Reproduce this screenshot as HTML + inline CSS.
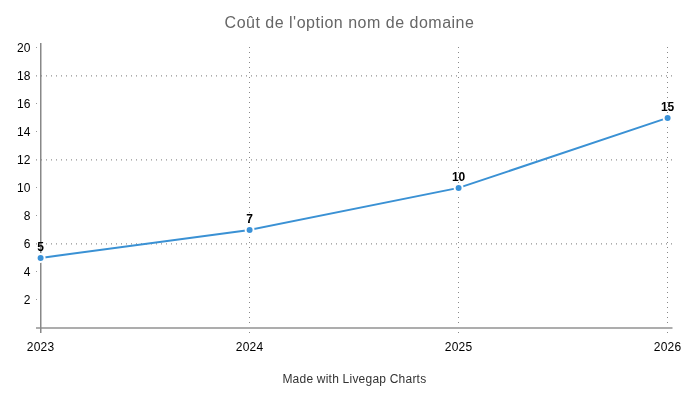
<!DOCTYPE html>
<html>
<head>
<meta charset="utf-8">
<style>
html,body{margin:0;padding:0;background:#fff;width:700px;height:400px;overflow:hidden}
svg{display:block;will-change:transform}
text{font-family:"Liberation Sans",sans-serif}
.yl{font-size:12px;fill:#000;text-anchor:end}
.xl{font-size:12px;fill:#000;text-anchor:middle;letter-spacing:0.25px}
.dl{font-size:12px;font-weight:bold;fill:#000;text-anchor:middle}
</style>
</head>
<body>
<svg width="700" height="400" viewBox="0 0 700 400" xmlns="http://www.w3.org/2000/svg">
<text x="349.5" y="27.6" font-size="16" fill="#666" text-anchor="middle" letter-spacing="0.5">Coût de l'option nom de domaine</text>

<!-- vertical gridlines -->
<g stroke="#8a8a8a" stroke-width="1" stroke-dasharray="1 4">
<line x1="249.5" y1="47" x2="249.5" y2="334"/>
<line x1="458.5" y1="47" x2="458.5" y2="334"/>
<line x1="667.5" y1="47" x2="667.5" y2="334"/>
</g>
<!-- horizontal gridlines -->
<g stroke="#777" stroke-width="1" stroke-dasharray="1 4">
<line x1="36" y1="75.9" x2="673" y2="75.9"/>
<line x1="36" y1="159.9" x2="673" y2="159.9"/>
<line x1="36" y1="243.9" x2="673" y2="243.9"/>
</g>
<!-- y tick marks -->
<g fill="#999">
<rect x="36" y="47" width="1" height="1"/>
<rect x="36" y="103" width="1" height="1"/>
<rect x="36" y="131" width="1" height="1"/>
<rect x="36" y="187" width="1" height="1"/>
<rect x="36" y="215" width="1" height="1"/>
<rect x="36" y="271" width="1" height="1"/>
<rect x="36" y="299" width="1" height="1"/>
</g>
<!-- axes -->
<line x1="36" y1="328" x2="672.5" y2="328" stroke="#adadad" stroke-width="2"/>
<line x1="40.75" y1="43" x2="40.75" y2="333" stroke="#888" stroke-width="1.5"/>

<!-- y labels -->
<text class="yl" x="30.4" y="52">20</text>
<text class="yl" x="30.4" y="80">18</text>
<text class="yl" x="30.4" y="108">16</text>
<text class="yl" x="30.4" y="136">14</text>
<text class="yl" x="30.4" y="164">12</text>
<text class="yl" x="30.4" y="192">10</text>
<text class="yl" x="30.4" y="220">8</text>
<text class="yl" x="30.4" y="248">6</text>
<text class="yl" x="30.4" y="276">4</text>
<text class="yl" x="30.4" y="304">2</text>

<!-- x labels -->
<text class="xl" x="40.6" y="351">2023</text>
<text class="xl" x="249.6" y="351">2024</text>
<text class="xl" x="458.6" y="351">2025</text>
<text class="xl" x="667.6" y="351">2026</text>

<!-- data line -->
<polyline points="40.6,257.9 249.6,229.9 458.6,187.9 667.6,117.9" fill="none" stroke="#3a91d4" stroke-width="2"/>
<g fill="#3b92d8" stroke="#fff" stroke-width="2">
<circle cx="40.6" cy="257.9" r="4"/>
<circle cx="249.6" cy="229.9" r="4"/>
<circle cx="458.6" cy="187.9" r="4"/>
<circle cx="667.6" cy="117.9" r="4"/>
</g>

<!-- data labels -->
<text class="dl" x="40.6" y="250.7">5</text>
<text class="dl" x="249.6" y="222.7">7</text>
<text class="dl" x="458.6" y="180.7">10</text>
<text class="dl" x="667.6" y="110.7">15</text>

<text x="354.4" y="383" font-size="12" fill="#333" text-anchor="middle" letter-spacing="0.22">Made with Livegap Charts</text>
</svg>
</body>
</html>
